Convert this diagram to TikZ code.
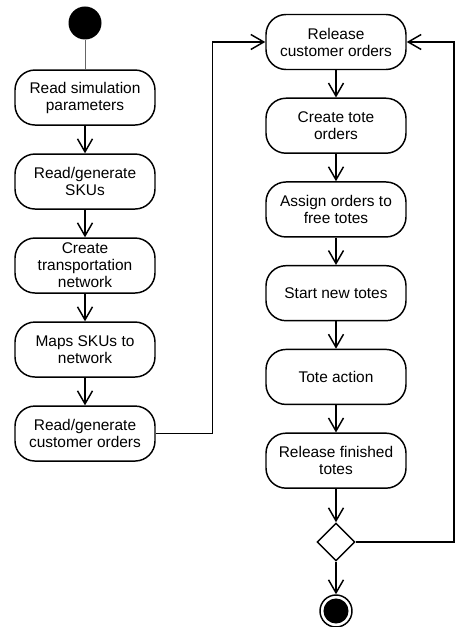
\documentclass[tikz,border=0pt]{standalone}
\usepackage{fontspec}
\setmainfont{Liberation Sans}
\usetikzlibrary{arrows.meta,positioning,shapes.geometric}

\begin{document}
\begin{tikzpicture}
[x=0.75pt,y=0.75pt,node distance=63pt,on grid,line width=1.1pt,
>={Straight Barb[length=9.75pt,width=11.25pt]},
action/.style={rectangle,rounded corners=15pt,draw,minimum width=105pt,
  minimum height=41.25pt,inner sep=1pt,align=center,
  font=\fontsize{11.6}{12.75}\selectfont},
startdot/.style={circle,fill,inner sep=0pt,minimum size=24.75pt},
enddot/.style={circle,draw,inner sep=0pt,minimum size=24pt,
  path picture={\fill (path picture bounding box.center) circle (9.4pt);}},
merge/.style={diamond,draw,fill=white,inner sep=0pt,minimum size=28.5pt},
into/.style={<-},
thin link/.style={draw=black!60,line width=0.6pt}]
\useasboundingbox (0,0) rectangle (455,-627);
% setup column
\node [startdot] (s0) at (85,-23) {};
\node [action] (par) [below=55.9pt of s0] {Read simulation\\parameters}
edge [thin link] (s0);
\node [action] (sku) [below=of par] {Read/generate\\SKUs}
edge [into] (par);
\node [action] (net) [below=of sku] {Create\\transportation\\network}
edge [into] (sku);
\node [action] (map) [below=of net] {Maps SKUs to\\network}
edge [into] (net);
\node [action] (cord) [below=of map] {Read/generate\\customer orders}
edge [into] (map);
% main loop
\begin{scope}[node distance=62.8pt]
\node [action] (rel) at (336,-42) {Release\\customer orders};
\node [action] (tord) [below=of rel] {Create tote\\orders}
edge [into] (rel);
\node [action] (asg) [below=of tord] {Assign orders to\\free totes}
edge [into] (tord);
\node [action] (new) [below=of asg] {Start new totes}
edge [into] (asg);
\node [action] (act) [below=of new] {Tote action}
edge [into] (new);
\node [action] (fin) [below=of act] {Release finished\\totes}
edge [into] (act);
\end{scope}
\node [merge] (dec) [below=61pt of fin] {}
edge [into] (fin);
\node [enddot] (stop) [below=51.75pt of dec] {}
edge [into] (dec);
\coordinate (loop) at (454,-300);
\draw [->] (cord.east) -- ++(57,0) |- (rel.west);
\draw [->] (dec.east) -| (loop) |- (rel.east);
\end{tikzpicture}
\end{document}
